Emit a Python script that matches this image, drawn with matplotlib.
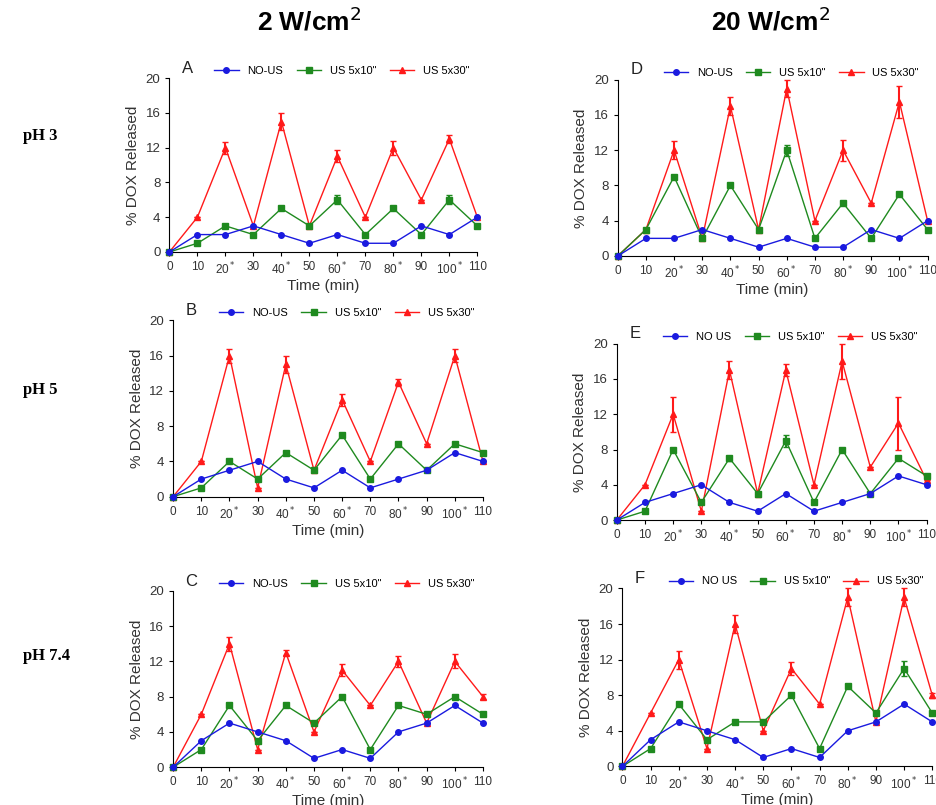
import matplotlib
matplotlib.use('Agg')
import matplotlib.pyplot as plt

plt.rcParams['font.family'] = ['Liberation Sans', 'DejaVu Sans']

time = [0, 10, 20, 30, 40, 50, 60, 70, 80, 90, 100, 110]
tick_labels = ['0', '10', '20$^*$', '30', '40$^*$', '50', '60$^*$', '70',
               '80$^*$', '90', '100$^*$', '110']

# panel A: pH 3, 2 W/cm2
a_nous = [0, 2, 2, 3, 2, 1, 2, 1, 1, 3, 2, 4]
a_10 = [0, 1, 3, 2, 5, 3, 6, 2, 5, 2, 6, 3]
a_10_err = [0, 0, 0, 0, 0.2, 0, 0.5, 0, 0, 0, 0.5, 0]
a_30 = [0, 4, 12, 3, 15, 3, 11, 4, 12, 6, 13, 4]
a_30_err = [0, 0, 0.7, 0, 1, 0, 0.7, 0, 0.8, 0, 0.5, 0]

# panel B: pH 5, 2 W/cm2
b_nous = [0, 2, 3, 4, 2, 1, 3, 1, 2, 3, 5, 4]
b_10 = [0, 1, 4, 2, 5, 3, 7, 2, 6, 3, 6, 5]
b_10_err = [0] * 12
b_30 = [0, 4, 16, 1, 15, 3, 11, 4, 13, 6, 16, 4]
b_30_err = [0, 0, 0.8, 0, 1, 0, 0.7, 0, 0.4, 0, 0.7, 0]

# panel C: pH 7.4, 2 W/cm2
c_nous = [0, 3, 5, 4, 3, 1, 2, 1, 4, 5, 7, 5]
c_10 = [0, 2, 7, 3, 7, 5, 8, 2, 7, 6, 8, 6]
c_10_err = [0] * 12
c_30 = [0, 6, 14, 2, 13, 4, 11, 7, 12, 5, 12, 8]
c_30_err = [0, 0, 0.8, 0, 0.3, 0, 0.7, 0, 0.6, 0, 0.8, 0.3]

# panel D: pH 3, 20 W/cm2
d_nous = [0, 2, 2, 3, 2, 1, 2, 1, 1, 3, 2, 4]
d_10 = [0, 3, 9, 2, 8, 3, 12, 2, 6, 2, 7, 3]
d_10_err = [0, 0, 0, 0, 0, 0, 0.6, 0, 0, 0, 0, 0]
d_30 = [0, 3, 12, 2, 17, 3, 19, 4, 12, 6, 17.5, 4]
d_30_err = [0, 0, 1, 0, 1, 0, 1, 0, 1.2, 0, 1.8, 0]

# panel E: pH 5, 20 W/cm2
e_nous = [0, 2, 3, 4, 2, 1, 3, 1, 2, 3, 5, 4]
e_10 = [0, 1, 8, 2, 7, 3, 9, 2, 8, 3, 7, 5]
e_10_err = [0, 0, 0, 0, 0.3, 0, 0.7, 0, 0, 0, 0, 0]
e_30 = [0, 4, 12, 1, 17, 3, 17, 4, 18, 6, 11, 4.5]
e_30_err = [0, 0, 2, 0, 1, 0, 0.7, 0, 2, 0, 3, 0]

# panel F: pH 7.4, 20 W/cm2
f_nous = [0, 3, 5, 4, 3, 1, 2, 1, 4, 5, 7, 5]
f_10 = [0, 2, 7, 3, 5, 5, 8, 2, 9, 6, 11, 6]
f_10_err = [0, 0, 0, 0, 0, 0, 0, 0, 0, 0, 0.8, 0]
f_30 = [0, 6, 12, 2, 16, 4, 11, 7, 19, 5, 19, 8]
f_30_err = [0, 0, 1, 0, 1, 0, 0.7, 0, 1, 0, 1, 0.3]

panels = [
    ('A', [0.181, 0.687, 0.329, 0.216], 'NO-US', a_nous, a_10, a_10_err, a_30, a_30_err, True),
    ('B', [0.185, 0.383, 0.331, 0.219], 'NO-US', b_nous, b_10, b_10_err, b_30, b_30_err, True),
    ('C', [0.185, 0.047, 0.331, 0.219], 'NO-US', c_nous, c_10, c_10_err, c_30, c_30_err, True),
    ('D', [0.660, 0.682, 0.331, 0.219], 'NO-US', d_nous, d_10, d_10_err, d_30, d_30_err, True),
    ('E', [0.659, 0.354, 0.331, 0.219], 'NO US', e_nous, e_10, e_10_err, e_30, e_30_err, False),
    ('F', [0.665, 0.048, 0.331, 0.221], 'NO US', f_nous, f_10, f_10_err, f_30, f_30_err, True),
]

fig = plt.figure(figsize=(9.36, 8.05), dpi=100)

for letter, rect, nous_name, nous, us10, us10_err, us30, us30_err, show_xlabel in panels:
    ax = fig.add_axes(rect)
    l1 = ax.errorbar(time, nous, color='#1a1adf', marker='o', ms=4, lw=1, clip_on=False, zorder=3)
    l2 = ax.errorbar(time, us10, yerr=us10_err, color='#1f8a1f', marker='s', ms=5, lw=1,
                     capsize=2, elinewidth=1.5, clip_on=False, zorder=2)
    l3 = ax.errorbar(time, us30, yerr=us30_err, color='#ff1a1a', marker='^', ms=5, lw=1,
                     capsize=2, elinewidth=1.5, clip_on=False, zorder=1)
    ax.set_xlim(0, 110)
    ax.set_ylim(0, 20)
    ax.set_xticks(time)
    ax.set_xticklabels(tick_labels, fontsize=8.5, color='#333333')
    ax.set_yticks([0, 4, 8, 12, 16, 20])
    ax.tick_params(axis='y', labelsize=9.5, labelcolor='#333333')
    ax.tick_params(direction='out', length=3)
    ax.spines['top'].set_visible(False)
    ax.spines['right'].set_visible(False)
    ax.set_ylabel('% DOX Released', fontsize=11, color='#333333')
    if show_xlabel:
        ax.set_xlabel('Time (min)', fontsize=11, color='#333333', labelpad=1)
    ax.legend([l1[0], l2[0], l3[0]], [nous_name, 'US 5x10"', 'US 5x30"'],
              loc='lower center', bbox_to_anchor=(0.56, 0.98), ncol=3, frameon=False,
              fontsize=8, handlelength=2.2, columnspacing=1.2, borderaxespad=0.1)
    ax.text(0.04, 1.03, letter, transform=ax.transAxes, fontsize=12, color='#222222')

fig.text(0.33, 0.962, '2 W/cm$^2$', fontsize=19, fontweight='bold', ha='center')
fig.text(0.823, 0.962, '20 W/cm$^2$', fontsize=19, fontweight='bold', ha='center')
for y, t in [(0.826, 'pH 3'), (0.51, 'pH 5'), (0.18, 'pH 7.4')]:
    fig.text(0.025, y, t, fontsize=12, fontweight='bold', family='Liberation Serif')

fig.savefig('out.png', dpi=100)
